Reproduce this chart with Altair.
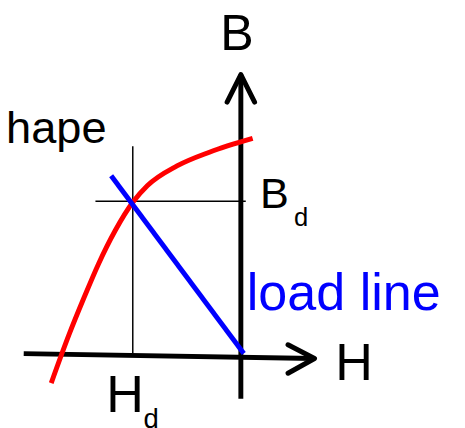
import altair as alt
import pandas as pd

# Coordinates in the H-B plane (origin at the axes crossing, H to the right, B up)
curve_H = [-193, -175, -160, -145, -128, -110, -95, -65, -32, 12]
curve_B = [-29, 20, 57, 92, 126, 155, 172, 192, 206, 220]

load_H = [-132, 3]
load_B = [182, 1]

# axes: H axis (slightly tilted in the drawing) and B axis
haxis_H = [-221, 75]
haxis_B = [1, -4]
harrow_H = [48, 75, 48]
harrow_B = [10, -4, -19]
vaxis_H = [0, 0]
vaxis_B = [-45, 285]
varrow_H = [-14, 0, 14]
varrow_B = [257, 285, 257]

# operating-point guide lines
guide_v_H = [-110, -110]
guide_v_B = [1, 212]
guide_h_H = [-148, 5]
guide_h_B = [156, 156]

labels = ["hape", "B", "B", "d", "load line", "H", "H", "d"]
label_H = [-239, -21, 19.5, 54, 6, 96, -137, -99]
label_B = [215, 310, 149, 131, 45, -26, -58, -75]
label_size = [46, 51, 44, 26, 53, 53, 53, 28]
label_color = ["black", "black", "black", "black", "blue", "black", "black", "black"]

xs = alt.Scale(domain=[-237, 220], zero=False, nice=False)
ys = alt.Scale(domain=[-71, 349], zero=False, nice=False)


def seg_df(parts):
    rows = []
    for k, (hs, bs) in enumerate(parts):
        for i, (h, b) in enumerate(zip(hs, bs)):
            rows.append({"seg": k, "i": i, "H": h, "B": b})
    return pd.DataFrame(rows)


def lines(parts, color, width, cap="butt", interp="linear"):
    return alt.Chart(seg_df(parts)).mark_line(
        color=color, strokeWidth=width, strokeCap=cap, strokeJoin="round",
        interpolate=interp,
    ).encode(
        x=alt.X("H:Q", scale=xs, axis=None),
        y=alt.Y("B:Q", scale=ys, axis=None),
        detail="seg:N",
        order="i:Q",
    )


guides = lines([(guide_v_H, guide_v_B), (guide_h_H, guide_h_B)], "black", 1.5)
axes = lines([(haxis_H, haxis_B), (vaxis_H, vaxis_B)], "black", 5)
arrows = lines([(harrow_H, harrow_B), (varrow_H, varrow_B)], "black", 5, "round")
curve = lines([(curve_H, curve_B)], "red", 5, interp="monotone")
load = lines([(load_H, load_B)], "blue", 5)

text_df = pd.DataFrame({
    "text": labels, "H": label_H, "B": label_B,
    "size": label_size, "color": label_color,
})
texts = alt.Chart(text_df).mark_text(
    align="left", baseline="alphabetic", font="Liberation Sans"
).encode(
    x=alt.X("H:Q", scale=xs, axis=None),
    y=alt.Y("B:Q", scale=ys, axis=None),
    text="text:N",
    size=alt.Size("size:Q", scale=None),
    color=alt.Color("color:N", scale=None),
)

chart = alt.layer(guides, axes, arrows, curve, load, texts).properties(
    width=457, height=420, padding=0, autosize=alt.AutoSizeParams(type="none")
).configure_view(stroke=None)

chart.save("out.html", embed_options={"renderer": "svg", "actions": False})
